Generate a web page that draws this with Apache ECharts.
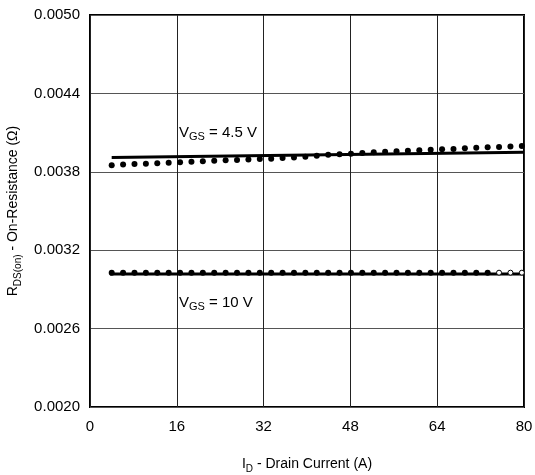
<!DOCTYPE html>
<html>
<head>
<meta charset="utf-8">
<script src="https://cdn.jsdelivr.net/npm/echarts@6/dist/echarts.min.js"></script>
<style>
  html, body { margin: 0; padding: 0; background: #fff; }
  #chart { width: 535px; height: 475px; }
</style>
</head>
<body>
<div id="chart"></div>
<script>
// drain current (A) of each measured dot
const dotX = [4.0, 6.1, 8.2, 10.3, 12.4, 14.5, 16.6, 18.7, 20.8, 22.9, 25.0, 27.1, 29.2,
  31.3, 33.4, 35.5, 37.6, 39.7, 41.8, 43.9, 46.0, 48.1, 50.2, 52.3, 54.4, 56.5, 58.6,
  60.7, 62.8, 64.9, 67.0, 69.1, 71.2, 73.3, 75.4, 77.5, 79.6]
// VGS = 4.5 V measured dots (ohm)
const dots45 = [0.003850, 0.003855, 0.003860, 0.003862, 0.003866, 0.003870, 0.003874,
  0.003877, 0.003880, 0.003884, 0.003888, 0.003890, 0.003894, 0.003898, 0.003900,
  0.003905, 0.003910, 0.003916, 0.003922, 0.003930, 0.003934, 0.003939, 0.003944,
  0.003949, 0.003954, 0.003957, 0.003962, 0.003965, 0.003969, 0.003972, 0.003975,
  0.003980, 0.003985, 0.003988, 0.003990, 0.003993, 0.003997]
// VGS = 10 V measured dots (ohm)
const dots10 = [0.003028, 0.003028, 0.003028, 0.003028, 0.003028, 0.003028, 0.003028,
  0.003028, 0.003028, 0.003028, 0.003028, 0.003028, 0.003028, 0.003028, 0.003028,
  0.003028, 0.003028, 0.003028, 0.003028, 0.003028, 0.003028, 0.003028, 0.003028,
  0.003028, 0.003028, 0.003028, 0.003028, 0.003028, 0.003028, 0.003028, 0.003028,
  0.003028, 0.003028, 0.003028, 0.003028, 0.003028, 0.003028]
const hollowCount = 3 // last dots of the 10 V set are open circles
// model lines: [x, y] end points
const line45 = [[4, 0.00391], [80, 0.00395]]
const line10 = [[3.7, 0.003018], [80, 0.003018]]
// axis ticks
const xTicks = [0, 16, 32, 48, 64, 80]
const yTicks = [0.0020, 0.0026, 0.0032, 0.0038, 0.0044, 0.0050]

const font = 'Liberation Sans, Arial, Helvetica, sans-serif'
const pairs = (xs, ys) => xs.map((x, i) => [x, ys[i]])
const filled10 = pairs(dotX, dots10).slice(0, dotX.length - hollowCount)
const hollow10 = pairs(dotX, dots10).slice(dotX.length - hollowCount)

const chart = echarts.init(document.getElementById('chart'))
chart.setOption({
  animation: false,
  grid: {
    left: 90, right: 11, top: 15, bottom: 68,
    outerBoundsMode: 'none',
    containLabel: false,
    show: true, borderColor: '#000', borderWidth: 2, backgroundColor: 'transparent'
  },
  xAxis: {
    type: 'value',
    min: xTicks[0],
    max: xTicks[xTicks.length - 1],
    interval: 16,
    name: '{n|I}{s|D}{n| - Drain Current (A)}',
    nameLocation: 'middle',
    nameGap: 47,
    nameTextStyle: {
      rich: {
        n: { fontSize: 14, fontFamily: font, color: '#000' },
        s: { fontSize: 10, fontFamily: font, color: '#000', padding: [10, 0, 0, 0] }
      }
    },
    axisLine: { show: false },
    axisTick: { show: false },
    axisLabel: { fontSize: 15, fontFamily: font, color: '#000', margin: 12 },
    splitLine: { lineStyle: { color: '#222', width: 1 } }
  },
  yAxis: {
    type: 'value',
    min: yTicks[0],
    max: yTicks[yTicks.length - 1],
    interval: 0.0006,
    name: '{n|R}{s|DS(on)}{n| - On-Resistance (Ω)}',
    nameLocation: 'middle',
    nameGap: 64,
    nameTextStyle: {
      rich: {
        n: { fontSize: 14, fontFamily: font, color: '#000' },
        s: { fontSize: 10, fontFamily: font, color: '#000', padding: [10, 0, 0, 0] }
      }
    },
    axisLine: { show: false },
    axisTick: { show: false },
    axisLabel: {
      fontSize: 15, fontFamily: font, color: '#000', margin: 10,
      formatter: v => v.toFixed(4)
    },
    splitLine: { lineStyle: { color: '#555', width: 1 } }
  },
  series: [
    {
      type: 'line', data: line45, symbol: 'none',
      lineStyle: { color: '#000', width: 3 }, z: 2
    },
    {
      type: 'line', data: line10, symbol: 'none',
      lineStyle: { color: '#000', width: 3 }, z: 2
    },
    {
      type: 'scatter', data: pairs(dotX, dots45), symbolSize: 6,
      itemStyle: { color: '#000', opacity: 1 }, z: 3
    },
    {
      type: 'scatter', data: filled10, symbolSize: 6,
      itemStyle: { color: '#000', opacity: 1 }, z: 3
    },
    {
      type: 'scatter', data: hollow10, symbolSize: 5,
      itemStyle: { color: '#fff', borderColor: '#000', borderWidth: 1, opacity: 1 }, z: 3
    }
  ],
  graphic: [
    {
      type: 'text', left: 179, top: 125,
      style: {
        text: '{n|V}{s|GS}{n| = 4.5 V}',
        rich: {
          n: { fontSize: 15, fontFamily: font, fill: '#000' },
          s: { fontSize: 11, fontFamily: font, fill: '#000', padding: [8, 0, 0, 0] }
        }
      }
    },
    {
      type: 'text', left: 179, top: 295,
      style: {
        text: '{n|V}{s|GS}{n| = 10 V}',
        rich: {
          n: { fontSize: 15, fontFamily: font, fill: '#000' },
          s: { fontSize: 11, fontFamily: font, fill: '#000', padding: [8, 0, 0, 0] }
        }
      }
    }
  ]
})
</script>
</body>
</html>
